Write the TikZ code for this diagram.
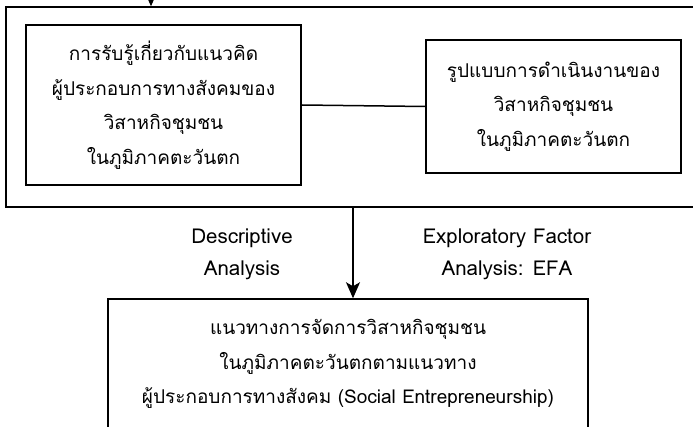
\documentclass[tikz,border=0pt]{standalone}
\usepackage{fontspec}
\setmainfont[Script=Thai]{Loma}
\usetikzlibrary{arrows.meta}
\tikzset{
  box/.style={draw, line width=1.5pt, rectangle, inner sep=0pt, align=center},
  arr/.style={line width=1.2pt, -{Stealth[length=16pt,width=14pt,inset=4pt]}},
  lbl/.style={align=center, inner sep=0pt}
}
\begin{document}
\begin{tikzpicture}[x=1pt,y=-1pt]
		%%%%% START %%%%%
		\fontsize{19}{34.5}\selectfont
		\useasboundingbox (0,0) rectangle (693,427);
		
		\node[box, minimum width=694pt, minimum height=200pt] (outer) at (353,107) {};
		\node[box, minimum width=275pt, minimum height=160pt] (perc) at (163.5,105)
		  {การรับรู้เกี่ยวกับแนวคิด\\ผู้ประกอบการทางสังคมของ\\วิสาหกิจชุมชน\\ในภูมิภาคตะวันตก};
		\node[box, minimum width=255pt, minimum height=133pt] (model) at (553.5,106.5)
		  {รูปแบบการดำเนินงานของ\\วิสาหกิจชุมชน\\ในภูมิภาคตะวันตก};
		\draw[line width=1.5pt] (perc.east) -- (model.west);
		
		\coordinate (in) at (151,-20);
		\draw[arr] (in) -- (in |- outer.north);
		
		\node[box, minimum width=480pt, minimum height=142pt] (guide) at (348,370) {};
		\node[lbl] (guidetxt) at (348,364)
		  {แนวทางการจัดการวิสาหกิจชุมชน\\ในภูมิภาคตะวันตกตามแนวทาง\\ผู้ประกอบการทางสังคม (Social Entrepreneurship)};
		\draw[arr] (outer.south) -- (outer.south |- guide.north);
		
		{\fontsize{20.5}{32}\selectfont
		\node[lbl] (desc) at (242,254) {Descriptive\\Analysis};
		\node[lbl] (efa) at (507,254) {Exploratory Factor\\Analysis: EFA};}
		%%%%% END %%%%%
\end{tikzpicture}
\end{document}
